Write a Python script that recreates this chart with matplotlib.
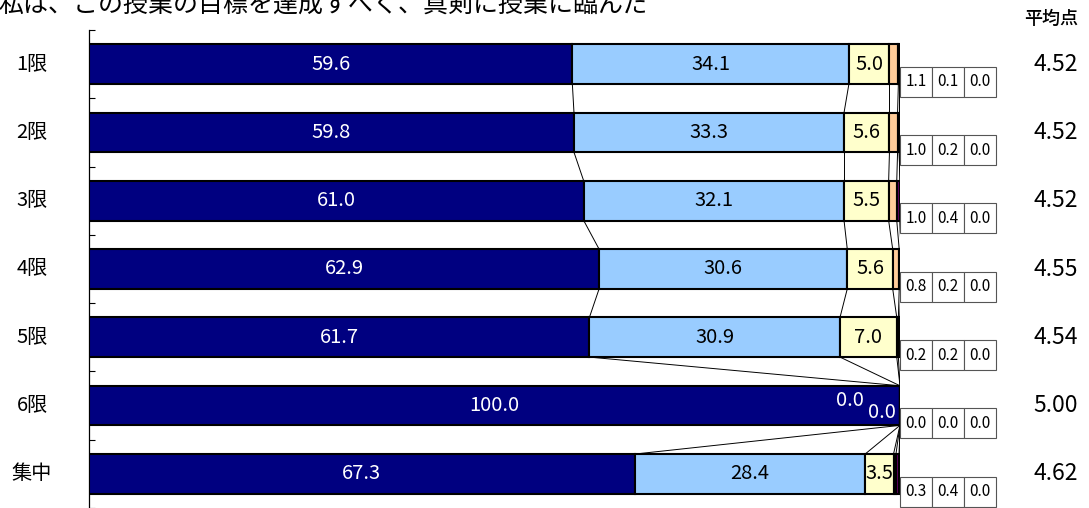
import matplotlib.pyplot as plt
from matplotlib.patches import Rectangle
import numpy as np

plt.rcParams['font.family'] = ['Noto Sans CJK JP', 'DejaVu Sans']

# datos
categorias = ['1限', '2限', '3限', '4限', '5限', '6限', '集中']
serie1 = [59.6, 59.8, 61.0, 62.9, 61.7, 100.0, 67.3]
serie2 = [34.1, 33.3, 32.1, 30.6, 30.9, 0.0, 28.4]
serie3 = [5.0, 5.6, 5.5, 5.6, 7.0, 0.0, 3.5]
serie4 = [1.1, 1.0, 1.0, 0.8, 0.2, 0.0, 0.3]
serie5 = [0.1, 0.2, 0.4, 0.2, 0.2, 0.0, 0.4]
serie6 = [0.0, 0.0, 0.0, 0.0, 0.0, 0.0, 0.0]
promedios = ['4.52', '4.52', '4.52', '4.55', '4.54', '5.00', '4.62']
titulo = '私は、この授業の目標を達成すべく、真剣に授業に臨んだ'

colores = ['#000080', '#99CCFF', '#FFFFCC', '#FFCC99', '#660066', '#FF8080']
series = [serie1, serie2, serie3, serie4, serie5, serie6]

W, H = 1089, 508
fig = plt.figure(figsize=(W / 100, H / 100), dpi=100)
ax = fig.add_axes([89 / W, 0, (900 - 89) / W, 1 - 30 / H])

y = np.arange(len(categorias))
alto = 0.58
datos = np.array(series)
acum = np.cumsum(datos, axis=0)
inicio = acum - datos

# barras apiladas
for i in range(len(series)):
    ax.barh(y, datos[i], left=inicio[i], height=alto, color=colores[i],
            edgecolor='black', linewidth=1.5, zorder=3)

# lineas de serie entre barras
for i in range(len(series)):
    for r in range(len(categorias) - 1):
        ax.plot([acum[i][r], acum[i][r + 1]], [r + alto / 2, r + 1 - alto / 2],
                color='black', linewidth=0.7, zorder=2)

# etiquetas dentro de las barras
for r in range(len(categorias)):
    for i in range(3):
        v = datos[i][r]
        col = 'white' if i == 0 else 'black'
        if v > 0:
            ax.text(inicio[i][r] + v / 2, r, f'{v:.1f}', ha='center', va='center',
                    color=col, fontsize=14.5, zorder=4)
        else:
            # etiquetas de valor cero (6限)
            dx, dy = (-36, 4) if i == 1 else (-13, -5)
            ax.annotate(f'{v:.1f}', xy=(acum[i][r], r), xytext=(dx, dy),
                        textcoords='offset points', ha='center', va='center',
                        color='white', fontsize=14.5, zorder=4)

# cajas con los valores pequenos
celda = 32 / 811 * 100
for r in range(len(categorias)):
    yc = r + 0.26
    for k, i in enumerate([3, 4, 5]):
        x0 = 100 + k * celda
        ax.add_patch(Rectangle((x0, yc - 0.22), celda, 0.44, facecolor='white',
                               edgecolor='#555555', linewidth=0.8, clip_on=False, zorder=5))
        ax.text(x0 + celda / 2, yc, f'{datos[i][r]:.1f}', ha='center', va='center',
                fontsize=11, clip_on=False, zorder=6)

# promedios y categorias
for r in range(len(categorias)):
    ax.text((1056 - 89) / 811, r, promedios[r], transform=ax.get_yaxis_transform(),
            ha='center', va='center', fontsize=16.5)
    ax.text((32 - 89) / 811, r, categorias[r], transform=ax.get_yaxis_transform(),
            ha='center', va='center', fontsize=14.5)

fig.text(1051 / W, 1 - 19 / H, '平均点', ha='center', va='center', fontsize=13,
         fontweight='medium')
fig.text(-2 / W, 1 - 5 / H, titulo, ha='left', va='center', fontsize=18)

ax.set_xlim(0, 100)
ax.set_ylim(len(categorias) - 0.52, -0.48)
ax.set_xticks([])
ax.set_yticks([])
ax.set_yticks(np.arange(-0.5, len(categorias), 1), minor=True)
ax.tick_params(axis='y', which='minor', direction='in', length=4, width=0.8,
               labelleft=False)
for s in ['top', 'right', 'bottom']:
    ax.spines[s].set_visible(False)
ax.spines['left'].set_linewidth(0.9)

plt.savefig('out.png', dpi=100)
